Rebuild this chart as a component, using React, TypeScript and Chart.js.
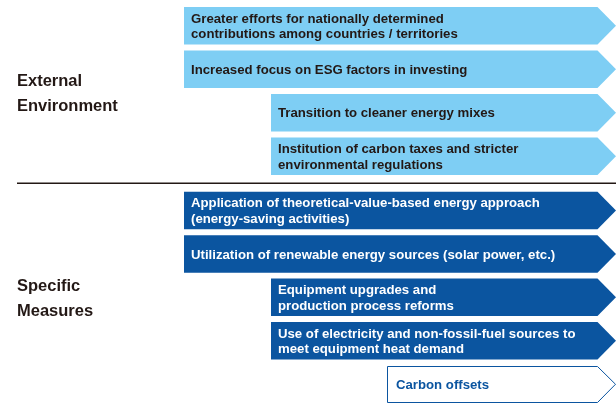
import React, { useEffect, useRef } from "react";
import { Chart, registerables } from "chart.js";

Chart.register(...registerables);

// Row positions (index axis) and bar extents (value axis)
const rows = [0, 1, 2, 3, 4.25, 5.25, 6.25, 7.25, 8.25];
const starts = [184, 184, 271, 271, 184, 184, 271, 271, 387];
const ends = [616, 616, 616, 616, 616, 616, 616, 616, 616];
const barLabels: string[][] = [
  ["Greater efforts for nationally determined", "contributions among countries / territories"],
  ["Increased focus on ESG factors in investing"],
  ["Transition to cleaner energy mixes"],
  ["Institution of carbon taxes and stricter", "environmental regulations"],
  ["Application of theoretical-value-based energy approach", "(energy-saving activities)"],
  ["Utilization of renewable energy sources (solar power, etc.)"],
  ["Equipment upgrades and", "production process reforms"],
  ["Use of electricity and non-fossil-fuel sources to", "meet equipment heat demand"],
  ["Carbon offsets"],
];
const kinds = ["ext", "ext", "ext", "ext", "meas", "meas", "meas", "meas", "offset"];
const groupNames: string[][] = [
  ["External", "Environment"],
  ["Specific", "Measures"],
];
const groupRows = [1.57, 6.29];
const dividerRow = 3.625;

const LIGHT = "#7ecef4";
const DARK = "#0b55a0";
const INK = "#231815";
const FONT = "'Liberation Sans', Arial, sans-serif";

const arrowPlugin = {
  id: "arrowShapes",
  afterDatasetsDraw(chart: any) {
    const ctx = chart.ctx as CanvasRenderingContext2D;
    const meta = chart.getDatasetMeta(0);
    const yScale = chart.scales.y;
    const xScale = chart.scales.x;
    ctx.save();
    meta.data.forEach((el: any, i: number) => {
      const p = el.getProps(["x", "y", "base", "height"], true);
      const left = Math.min(p.base, p.x);
      const right = Math.max(p.base, p.x);
      const top = p.y - p.height / 2;
      const bottom = p.y + p.height / 2;
      const depth = 18.5;
      const kind = kinds[i];
      ctx.beginPath();
      if (kind === "offset") {
        const l = Math.round(left) + 0.5;
        const t = Math.round(top) + 0.5;
        const b = Math.round(bottom) - 0.5;
        ctx.moveTo(l, t);
        ctx.lineTo(right - depth, t);
        ctx.lineTo(right - 0.5, p.y);
        ctx.lineTo(right - depth, b);
        ctx.lineTo(l, b);
        ctx.closePath();
        ctx.fillStyle = "#ffffff";
        ctx.fill();
        ctx.strokeStyle = DARK;
        ctx.lineWidth = 1;
        ctx.stroke();
      } else {
        ctx.moveTo(left, top);
        ctx.lineTo(right - depth, top);
        ctx.lineTo(right, p.y);
        ctx.lineTo(right - depth, bottom);
        ctx.lineTo(left, bottom);
        ctx.closePath();
        ctx.fillStyle = kind === "ext" ? LIGHT : DARK;
        ctx.fill();
      }
      // labels
      const lines = barLabels[i];
      ctx.font = `bold 13.2px ${FONT}`;
      ctx.textBaseline = "middle";
      ctx.textAlign = "left";
      ctx.fillStyle = kind === "ext" ? INK : kind === "meas" ? "#ffffff" : DARK;
      const lh = 15.8;
      const pad = kind === "offset" ? 9 : 7;
      lines.forEach((ln, k) => {
        const yy = p.y + 1 + (k - (lines.length - 1) / 2) * lh;
        ctx.fillText(ln, left + pad, yy);
      });
    });

    // divider line
    const yd = yScale.getPixelForValue(dividerRow);
    ctx.beginPath();
    ctx.strokeStyle = INK;
    ctx.lineWidth = 1.5;
    ctx.moveTo(17, yd);
    ctx.lineTo(xScale.right, yd);
    ctx.stroke();

    // group labels
    ctx.font = `bold 16.5px ${FONT}`;
    ctx.fillStyle = INK;
    ctx.textBaseline = "middle";
    groupNames.forEach((g, gi) => {
      const cy = yScale.getPixelForValue(groupRows[gi]);
      const lh = 24.5;
      g.forEach((ln, k) => {
        ctx.fillText(ln, 17, cy + (k - (g.length - 1) / 2) * lh);
      });
    });
    ctx.restore();
  },
};

export default function App() {
  const ref = useRef<HTMLCanvasElement | null>(null);
  useEffect(() => {
    document.body.style.margin = "0";
    const canvas = ref.current;
    if (!canvas) return;
    const chart = new Chart(canvas, {
      type: "bar",
      data: {
        datasets: [
          {
            data: rows.map((r, i) => ({ y: r, x: [starts[i], ends[i]] })) as any,
            backgroundColor: "rgba(0,0,0,0)",
            borderWidth: 0,
            barThickness: 37.5,
          },
        ],
      },
      options: {
        indexAxis: "y",
        responsive: false,
        animation: false,
        layout: { padding: 0 },
        plugins: { legend: { display: false }, tooltip: { enabled: false } },
        scales: {
          x: { type: "linear", min: 0, max: 616, display: false, offset: false },
          y: {
            type: "linear",
            reverse: true,
            min: -0.594,
            max: 8.727,
            display: false,
            offset: false,
            grace: 0,
          },
        },
      },
      plugins: [arrowPlugin],
    });
    return () => chart.destroy();
  }, []);
  return (
    <div style={{ width: 616, height: 405 }}>
      <canvas ref={ref} width={616} height={405} style={{ display: "block" }} />
    </div>
  );
}
